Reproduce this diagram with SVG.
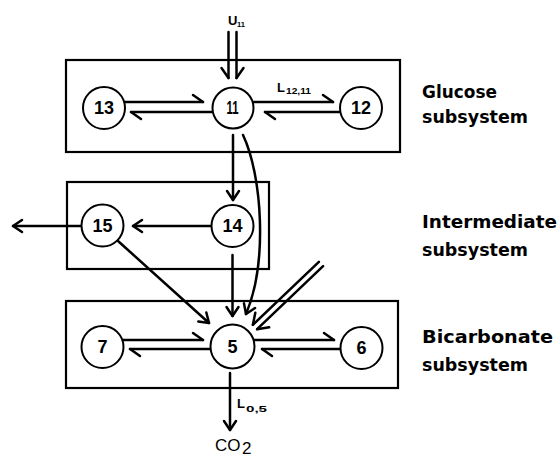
<svg xmlns="http://www.w3.org/2000/svg" width="558" height="458" viewBox="0 0 558 458">
<style>
.box{fill:none;stroke:#000;stroke-width:2.2}
.node circle{fill:#fff;stroke:#000;stroke-width:2}
.num{font-family:"Liberation Sans",Arial,sans-serif;font-weight:bold;font-size:18px;text-anchor:middle;fill:#000}
.lbl{font-family:"DejaVu Sans",sans-serif;font-weight:bold;font-size:18px;fill:#000}
.sym{font-family:"Liberation Sans",Arial,sans-serif;font-weight:bold;fill:#000}
.co{font-family:"Liberation Sans",Arial,sans-serif;font-size:17px;fill:#000}
.c line,.c path{fill:none;stroke:#000;stroke-width:2.5;stroke-linecap:round}
.mk{fill:none;stroke:#000;stroke-width:2.5;stroke-linecap:round;stroke-linejoin:round}
</style>
<defs>
<marker id="full" markerUnits="userSpaceOnUse" orient="auto" refX="0" refY="0" markerWidth="20" markerHeight="20" overflow="visible"><path class="mk" d="M-9,-6 L0,0 L-9,6"/></marker>
<marker id="hL" markerUnits="userSpaceOnUse" orient="auto" refX="0" refY="0" markerWidth="20" markerHeight="20" overflow="visible"><path class="mk" d="M-10,-7 L0,0"/></marker>
<marker id="hR" markerUnits="userSpaceOnUse" orient="auto" refX="0" refY="0" markerWidth="20" markerHeight="20" overflow="visible"><path class="mk" d="M-10,7 L0,0"/></marker>
</defs>
<rect width="558" height="458" fill="#fff"/>

<g id="glucose-subsystem"><rect class="box" x="66" y="60" width="334" height="92"/><text class="lbl" x="422" y="98" textLength="75" lengthAdjust="spacingAndGlyphs">Glucose</text><text class="lbl" x="422" y="123" textLength="106" lengthAdjust="spacingAndGlyphs">subsystem</text></g>
<g id="intermediate-subsystem"><rect class="box" x="67" y="182" width="202" height="87"/><text class="lbl" x="422" y="228" textLength="135" lengthAdjust="spacingAndGlyphs">Intermediate</text><text class="lbl" x="422" y="256" textLength="106" lengthAdjust="spacingAndGlyphs">subsystem</text></g>
<g id="bicarbonate-subsystem"><rect class="box" x="66" y="301" width="332" height="87"/><text class="lbl" x="422" y="343" textLength="131" lengthAdjust="spacingAndGlyphs">Bicarbonate</text><text class="lbl" x="422" y="371" textLength="106" lengthAdjust="spacingAndGlyphs">subsystem</text></g>

<g id="connectors" class="c">
<line x1="228.5" y1="32" x2="228.5" y2="78" marker-end="url(#hR)"/>
<line x1="236.5" y1="32" x2="236.5" y2="78" marker-end="url(#hL)"/>
<line x1="125" y1="102" x2="203" y2="102" marker-end="url(#hL)"/>
<line x1="212" y1="112" x2="131" y2="112" marker-end="url(#hL)"/>
<line x1="254" y1="102" x2="333" y2="102" marker-end="url(#hL)"/>
<line x1="340" y1="112" x2="265" y2="112" marker-end="url(#hL)"/>
<line x1="233" y1="135" x2="233" y2="200" marker-end="url(#full)"/>
<path d="M243,135 C262,175 268,262 246,314" marker-end="url(#full)"/>
<line x1="211" y1="226" x2="133" y2="226" marker-end="url(#full)"/>
<line x1="82" y1="226" x2="13" y2="226" marker-end="url(#full)"/>
<line x1="118" y1="241" x2="209" y2="323" marker-end="url(#full)"/>
<line x1="232.5" y1="255" x2="232.5" y2="316" marker-end="url(#full)"/>
<line x1="318.9" y1="261.8" x2="252.9" y2="324.8" marker-end="url(#hR)"/>
<line x1="323.1" y1="266.2" x2="257.1" y2="329.2" marker-end="url(#hL)"/>
<line x1="123" y1="340" x2="203" y2="340" marker-end="url(#hL)"/>
<line x1="211" y1="349" x2="130" y2="349" marker-end="url(#hL)"/>
<line x1="254" y1="340" x2="334" y2="340" marker-end="url(#hL)"/>
<line x1="340" y1="349" x2="262" y2="349" marker-end="url(#hL)"/>
<line x1="230" y1="373" x2="230" y2="430" marker-end="url(#full)"/>
</g>

<g id="labels">
<text class="sym" x="228" y="25" font-size="13">U</text><text class="sym" x="237" y="27" font-size="8" textLength="8" lengthAdjust="spacingAndGlyphs">11</text>
<text class="sym" x="277" y="92" font-size="13">L</text><text class="sym" x="286" y="94" font-size="8.5" textLength="25" lengthAdjust="spacingAndGlyphs">12,11</text>
<text class="sym" x="237" y="408" font-size="13">L</text><text class="sym" x="246" y="412" font-size="8.5" textLength="21" lengthAdjust="spacingAndGlyphs">0,5</text>
<text class="co" x="215" y="451">CO</text><text class="co" x="242" y="454" font-size="15">2</text>
</g>

<g id="n13" class="node"><circle cx="104" cy="108" r="21"/><text class="num" x="104" y="114">13</text></g>
<g id="n11" class="node"><circle cx="233" cy="108" r="20.5"/><text class="num" x="232.5" y="114" textLength="12" lengthAdjust="spacingAndGlyphs">11</text></g>
<g id="n12" class="node"><circle cx="361" cy="108" r="21"/><text class="num" x="361" y="114">12</text></g>
<g id="n15" class="node"><circle cx="102.5" cy="225.5" r="21"/><text class="num" x="102.5" y="231.5">15</text></g>
<g id="n14" class="node"><circle cx="232.5" cy="226" r="21"/><text class="num" x="232.5" y="232">14</text></g>
<g id="n7" class="node"><circle cx="102.5" cy="347" r="21"/><text class="num" x="102.5" y="353">7</text></g>
<g id="n5" class="node"><circle cx="232.5" cy="346.5" r="22"/><text class="num" x="232.5" y="353">5</text></g>
<g id="n6" class="node"><circle cx="361.5" cy="348" r="21"/><text class="num" x="361.5" y="354">6</text></g>
</svg>
